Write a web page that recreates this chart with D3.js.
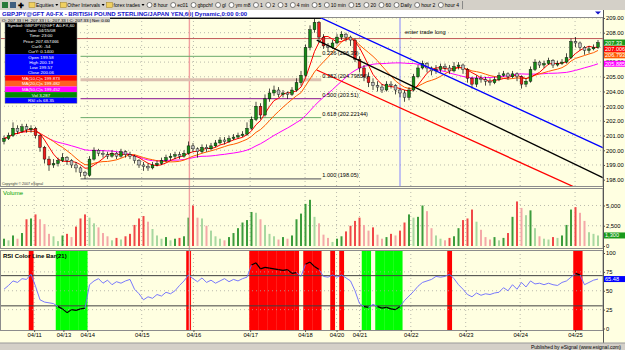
<!DOCTYPE html>
<html>
<head>
<meta charset="utf-8">
<script src="https://cdn.jsdelivr.net/npm/d3@7"></script>
<style>
body { margin: 0; background: #d4d0c8; }
svg { display: block; font-family: "Liberation Sans", Arial, sans-serif; }
</style>
</head>
<body>
<script>
// ---- data (2-hour bars) ----
var firstOpen = 200.6;
var closes = [200.8,201.0,201.5,201.3,201.6,201.4,201.5,201.0,200.2,199.4,
  199.0,199.1,199.3,199.5,199.3,199.0,198.8,198.5,198.3,199.4,
  200.0,199.8,199.7,199.6,199.8,199.6,199.9,199.7,199.6,199.3,
  199.0,198.9,198.8,199.0,199.1,199.3,199.5,199.6,199.7,199.6,
  199.8,200.3,200.1,199.9,200.2,200.1,200.3,200.5,200.7,200.6,
  200.8,200.9,201.0,201.1,201.5,202.1,203.0,202.4,203.5,203.9,
  204.1,203.8,203.9,203.8,204.1,204.6,205.1,207.0,208.2,208.7,
  207.7,207.1,207.0,207.3,207.7,207.9,207.7,207.5,206.2,205.6,
  205.0,204.6,204.4,204.3,204.1,204.5,204.4,204.1,203.9,203.6,
  204.1,205.0,205.6,205.9,205.6,205.4,205.5,205.7,205.6,205.4,
  205.7,205.8,205.5,204.9,204.5,204.9,204.8,204.7,204.6,204.8,
  205.1,205.2,205.0,205.2,205.0,204.5,204.7,205.5,206.0,205.8,
  205.9,206.1,205.8,205.9,206.0,206.3,207.4,207.3,207.0,206.8,
  206.9,207.0,207.33];
var highs = [201.0,201.2,201.9,201.7,201.8,201.8,201.7,201.6,201.1,200.3,
  199.6,199.4,199.5,199.8,199.6,199.4,199.2,198.9,198.6,199.6,
  200.2,200.1,200.0,199.9,200.0,199.9,200.1,200.0,199.9,199.7,
  199.4,199.2,199.1,199.2,199.3,199.5,199.7,199.8,199.9,199.9,
  200.0,200.6,200.5,200.2,200.4,200.4,200.5,200.7,200.9,200.9,
  201.0,201.1,201.2,201.3,201.9,202.3,203.3,203.2,203.8,204.2,
  204.4,204.3,204.1,204.0,204.3,204.9,205.4,207.2,208.5,208.97,
  208.8,207.9,207.3,207.5,207.9,208.1,208.0,207.8,207.6,206.4,
  205.8,205.3,204.9,204.7,204.5,204.7,204.7,204.5,204.2,204.1,
  204.3,205.2,205.8,206.1,206.0,205.7,205.8,205.9,205.9,205.8,
  206.0,206.0,205.9,205.6,205.0,205.1,205.1,205.0,204.9,205.0,
  205.3,205.4,205.3,205.4,205.3,205.1,204.9,205.7,206.2,206.1,
  206.1,206.3,206.2,206.1,206.2,206.6,207.6,207.7,207.4,207.1,
  207.1,207.2,207.5];
var lows = [200.4,200.7,200.9,201.1,201.2,201.2,201.2,200.8,199.9,199.1,
  198.6,198.8,198.9,199.2,199.0,198.8,198.5,198.2,198.05,198.2,
  199.3,199.6,199.5,199.4,199.5,199.4,199.5,199.5,199.4,199.1,
  198.8,198.6,198.6,198.7,198.9,199.0,199.2,199.3,199.4,199.4,
  199.5,199.7,199.9,199.5,199.8,199.9,200.0,200.2,200.4,200.4,
  200.5,200.7,200.8,200.9,201.0,201.4,202.0,202.1,202.3,203.3,
  203.7,203.6,203.6,203.5,203.7,204.0,204.4,205.0,206.8,208.0,
  207.3,206.9,206.7,206.9,207.2,207.5,207.4,207.1,206.0,205.3,
  204.7,204.3,204.1,204.0,203.9,204.0,204.2,203.8,203.6,203.3,
  203.4,204.0,204.9,205.5,205.3,205.1,205.2,205.3,205.4,205.2,
  205.3,205.5,205.2,204.6,204.2,204.3,204.6,204.4,204.4,204.5,
  204.7,205.0,204.8,204.9,204.7,204.2,204.3,204.6,205.4,205.6,
  205.6,205.8,205.6,205.7,205.8,205.9,206.2,207.0,206.8,206.5,
  206.6,206.8,206.9];
var volumes = [900,700,1300,900,1600,3300,3400,3900,3300,2700,
  1500,1200,600,1300,1500,1100,2400,3400,3900,3500,
  2800,2300,1600,1200,700,1000,800,1200,1500,2600,
  3400,3700,3000,2100,1300,900,1100,700,900,1000,
  1200,3500,5000,3500,3400,2500,1900,1200,900,700,
  1100,1600,2200,2900,3200,4200,4100,3300,2600,1500,
  1200,800,1100,900,1300,3300,4000,5200,5700,3600,
  2800,1400,1000,500,900,1200,1800,2500,3100,3500,
  2600,1900,2300,1400,900,1100,1500,1300,1900,2900,
  3900,3500,3600,5000,4300,2200,1300,900,700,1000,
  1200,2200,3200,3400,4500,3000,2000,1100,800,1100,
  700,1000,1600,3600,5500,4700,3800,4400,2200,1200,
  900,800,1100,1000,1300,2600,4500,4800,4100,3100,
  1700,1500,1300];
var rsi = [52,57,63,61,66,65,72,56,38,35,
  34,33,29,26,21,25,24,26,27,58,
  63,66,60,64,58,62,60,63,65,52,
  46,38,42,40,45,43,48,46,50,57,
  63,71,66,62,67,61,64,60,63,66,
  62,65,63,66,68,84,87,79,81,80,
  79,78,77,78,73,74,69,85,88,82,
  78,69,68,71,68,71,67,63,50,33,
  29,28,32,29,27,28,26,25,29,37,
  43,49,56,61,63,65,69,68,69,72,
  66,58,52,45,42,47,44,46,45,47,
  48,54,50,58,52,61,55,63,59,60,
  58,60,58,57,61,63,68,73,71,58,
  61,64,65.48];

var dateLabels = ["04/11","04/13","04/14","04/15","04/16","04/17","04/18","04/20","04/21","04/22","04/23","04/24","04/25"];
var dateBars = [6.7,13.2,18.5,30.6,42.1,54.7,66.9,73.9,79.0,90.4,102.6,114.7,126.9];
var priceTicks = [198,199,200,201,202,203,204,205,206,207,208,209];
var volTicks = [0,2500,5000];
var rsiTicks = [0,25,50,75,100];
var rsiBounds = [30,70];
var maPeriods = [5,10,25];

// fibonacci retracement from the 04/13 low to the 04/18 high
var fibLow = 198.05, fibHigh = 208.97;
var fibLevels = [0,0.236,0.382,0.5,0.618,1];
var fibLabels = ["0.000 (208.97)","0.236 (206.39)","0.382 (204.79856)","0.500 (203.51)","0.618 (202.22144)","1.000 (198.05)"];
var fibBars = [17,70.5];

// down channel: [start price, end price]
var channelBars = [69.5,133.2];
var channelPrices = [[209.14,200.16],[207.5,198.12],[205.46,196.6]];

var entryLevel = 207.6, entryBar = 88.0, entryText = "enter trade long";
var sessionBar = 41.2;

// ---- layout ----
var width = 625, height = 350;
var axisX = 603;
var P = {top: 17, bottom: 186}, V = {top: 188, bottom: 248}, R = {top: 250, bottom: 330};

var svg = d3.select("body").append("svg")
    .attr("width", width)
    .attr("height", height);

svg.append("rect").attr("width", width).attr("height", height).attr("fill", "#ffffe1");

var x = d3.scaleLinear().domain([0, closes.length - 1]).range([4, 598]);
var yP = d3.scaleLinear().domain([197.57, 209.068]).range([P.bottom, P.top]);
var yV = d3.scaleLinear().domain([0, 7037]).range([246, 189]);
var yR = d3.scaleLinear().domain([0, 100]).range([328.5, 253]);

var bars = closes.map(function(c, i) {
    return {i: i, o: i ? closes[i - 1] : firstOpen, c: c, h: highs[i], l: lows[i],
            v: volumes[i], pv: i ? volumes[i - 1] : volumes[i], r: rsi[i]};
});

function sma(arr, n) {
    return arr.map(function(d, i) { return d3.mean(arr.slice(Math.max(0, i - n + 1), i + 1)); });
}
var maColors = ["#ff0000", "#ff5a00", "#ff00ff"];
var mas = maPeriods.map(function(n) { return sma(closes, n); });

var defs = svg.append("defs");
defs.append("clipPath").attr("id", "clipP").append("rect")
    .attr("x", 0).attr("y", P.top).attr("width", axisX).attr("height", P.bottom - P.top);

// grid
function vgrid(top, bottom) {
    svg.append("g").selectAll("line").data(dateBars).join("line")
        .attr("x1", function(d) { return x(d); }).attr("x2", function(d) { return x(d); })
        .attr("y1", top).attr("y2", bottom)
        .attr("stroke", "#a8a8a0").attr("stroke-width", 0.8).attr("stroke-dasharray", "1,3");
}
function hgrid(vals, scale) {
    svg.append("g").selectAll("line").data(vals).join("line")
        .attr("x1", 0).attr("x2", axisX)
        .attr("y1", function(d) { return scale(d); }).attr("y2", function(d) { return scale(d); })
        .attr("stroke", "#a8a8a0").attr("stroke-width", 0.8).attr("stroke-dasharray", "1,3");
}
vgrid(P.top, P.bottom); vgrid(V.top, V.bottom); vgrid(R.top, R.bottom);
hgrid(priceTicks.slice(1), yP);
hgrid(volTicks.slice(1), yV);

// ---- RSI panel ----
var band = svg.append("g");
band.selectAll("rect").data(bars.filter(function(d) { return d.r > rsiBounds[1] || d.r < rsiBounds[0]; }))
    .join("rect")
    .attr("x", function(d) { return x(d.i - 0.5); })
    .attr("width", x(1) - x(0) + 0.3)
    .attr("y", R.top).attr("height", R.bottom - R.top)
    .attr("fill", function(d) { return d.r > rsiBounds[1] ? "#ff0000" : "#00ff00"; });

svg.append("g").selectAll("line").data([25, 50, 75]).join("line")
    .attr("x1", 0).attr("x2", axisX)
    .attr("y1", function(d) { return yR(d); }).attr("y2", function(d) { return yR(d); })
    .attr("stroke", "#a8a8a0").attr("stroke-width", 0.8).attr("stroke-dasharray", "1,3");
svg.append("g").selectAll("line").data(rsiBounds).join("line")
    .attr("x1", 0).attr("x2", axisX)
    .attr("y1", function(d) { return yR(d); }).attr("y2", function(d) { return yR(d); })
    .attr("stroke", "#404040").attr("stroke-width", 1);

function hot(d) { return d.r > rsiBounds[1] || d.r < rsiBounds[0]; }
svg.append("g").selectAll("line").data(d3.pairs(bars)).join("line")
    .attr("x1", function(d) { return x(d[0].i); }).attr("y1", function(d) { return yR(d[0].r); })
    .attr("x2", function(d) { return x(d[1].i); }).attr("y2", function(d) { return yR(d[1].r); })
    .attr("stroke", function(d) { return hot(d[0]) && hot(d[1]) ? "#000000" : "#6a6aff"; })
    .attr("stroke-width", function(d) { return hot(d[0]) && hot(d[1]) ? 1.2 : 0.9; });

svg.append("text").attr("x", 3).attr("y", 258).attr("font-size", 6).attr("font-weight", "bold")
    .text("RSI Color Line Bar(21)");

// ---- volume panel ----
svg.append("g").selectAll("rect").data(bars).join("rect")
    .attr("x", function(d) { return x(d.i) - 1; })
    .attr("width", 2)
    .attr("y", function(d) { return yV(d.v); })
    .attr("height", function(d) { return yV(0) - yV(d.v); })
    .attr("fill", function(d) {
        if (d.c >= d.o) return d.v >= d.pv ? "#3c9c3c" : "#a8d8a0";
        return d.v >= d.pv ? "#f04848" : "#f4a8a8";
    });
svg.append("text").attr("x", 3).attr("y", 195).attr("font-size", 6).attr("fill", "#00a000").text("Volume");

// session marker
svg.append("line").attr("x1", x(sessionBar)).attr("x2", x(sessionBar)).attr("y1", 10).attr("y2", R.bottom)
    .attr("stroke", "#f2a0a0").attr("stroke-width", 1.4);

// ---- price panel ----
var pg = svg.append("g").attr("clip-path", "url(#clipP)");

pg.append("line").attr("x1", x(entryBar)).attr("x2", x(entryBar)).attr("y1", P.top).attr("y2", P.bottom)
    .attr("stroke", "#8484ff").attr("stroke-width", 1);
pg.append("line").attr("x1", 0).attr("x2", axisX).attr("y1", yP(entryLevel)).attr("y2", yP(entryLevel))
    .attr("stroke", "#c05858").attr("stroke-width", 1);

// fib levels
var fibColors = ["#000000", "#6aaa6a", "#dcc0b0", "#a040a0", "#6aaa6a", "#707070"];
var fibWidths = [1, 1, 3, 1.2, 1, 1.2];
fibLevels.forEach(function(f, k) {
    var p = fibHigh - f * (fibHigh - fibLow);
    pg.append("line").attr("x1", x(fibBars[0])).attr("x2", x(fibBars[1]))
        .attr("y1", yP(p)).attr("y2", yP(p))
        .attr("stroke", fibColors[k]).attr("stroke-width", fibWidths[k]);
});

// moving averages
var line = d3.line().x(function(d, i) { return x(i); }).y(function(d) { return yP(d); });
mas.slice().reverse().forEach(function(m, k) {
    pg.append("path").attr("d", line(m)).attr("fill", "none")
        .attr("stroke", maColors[maColors.length - 1 - k]).attr("stroke-width", 1);
});

// candles
var cw = (x(1) - x(0)) * 0.62;
var candle = pg.append("g").selectAll("g").data(bars).join("g");
candle.append("line")
    .attr("x1", function(d) { return x(d.i); }).attr("x2", function(d) { return x(d.i); })
    .attr("y1", function(d) { return yP(d.h); }).attr("y2", function(d) { return yP(d.l); })
    .attr("stroke", "#000").attr("stroke-width", 0.7);
candle.append("rect")
    .attr("x", function(d) { return x(d.i) - cw / 2; })
    .attr("width", cw)
    .attr("y", function(d) { return yP(Math.max(d.o, d.c)); })
    .attr("height", function(d) { return Math.max(0.8, Math.abs(yP(d.o) - yP(d.c))); })
    .attr("fill", function(d) {
        if (d.c >= d.o) return "#168a16";
        return d.o - d.c > 0.4 ? "#ee1c1c" : "#bdbdbd";
    })
    .attr("stroke", "#000").attr("stroke-width", 0.4);

// channel lines
var chColors = ["#0000ff", "#000000", "#ff0000"];
channelPrices.forEach(function(cp, k) {
    pg.append("line")
        .attr("x1", x(channelBars[0])).attr("y1", yP(cp[0]))
        .attr("x2", x(channelBars[1])).attr("y2", yP(cp[1]))
        .attr("stroke", chColors[k]).attr("stroke-width", 1.3);
});

// fib labels
fibLevels.forEach(function(f, k) {
    var p = fibHigh - f * (fibHigh - fibLow);
    pg.append("text").attr("x", x(fibBars[1]) + 1).attr("y", yP(p) - 1.5)
        .attr("font-size", 5.6).text(fibLabels[k]);
});
pg.append("text").attr("x", x(entryBar) + 5).attr("y", yP(entryLevel) - 5)
    .attr("font-size", 5.8).text(entryText);

svg.append("text").attr("x", 2).attr("y", 184.5).attr("font-size", 3.6).attr("fill", "#333")
    .text("Copyright \u00a9 2007 eSignal");

// ---- panel frames ----
[P, V, R].forEach(function(p) {
    svg.append("rect").attr("x", 0.5).attr("y", p.top + 0.5).attr("width", axisX - 0.5).attr("height", p.bottom - p.top)
        .attr("fill", "none").attr("stroke", "#8c8c8c").attr("stroke-width", 1);
});

// ---- window chrome ----
svg.append("rect").attr("width", width).attr("height", 10).attr("fill", "#d4d0c8");
svg.append("rect").attr("y", 10).attr("width", axisX).attr("height", 7).attr("fill", "#ffffff");
svg.append("text").attr("x", 2).attr("y", 15.8).attr("font-size", 6).attr("font-weight", "bold").attr("fill", "#1010c8")
    .text("GBPJPY@GFT A0-FX - BRITISH POUND STERLING/JAPAN YEN,60| Dynamic,0:00 0:00");
svg.append("path").attr("d", "M595,11.5 L601,11.5 L598,14.5 Z").attr("fill", "#1010c8");
svg.append("line").attr("x1", x(sessionBar)).attr("x2", x(sessionBar)).attr("y1", 10).attr("y2", 17)
    .attr("stroke", "#f2a0a0").attr("stroke-width", 1.4);

// toolbar
var tools = [["folder","Equities",1],["folder","Other Intervals",1],["folder","forex trades",1],
    ["clock","8 hour"],["clock","ec01"],["clock","gbpchf"],["clock","gl"],["clock","ym m8"],
    ["clock","1"],["clock","2"],["clock","3"],["clock","4 min"],["clock","5"],["clock","10 min"],
    ["clock","15"],["clock","20"],["clock","60"],["clock","Daily"],["clock","hour 2"],["clock","hour 4"]];
svg.append("rect").attr("x", 2).attr("y", 2).attr("width", 6).attr("height", 6).attr("fill", "#2a7a3a");
svg.append("rect").attr("x", 10).attr("y", 2).attr("width", 6).attr("height", 6).attr("fill", "#406080");
svg.append("text").attr("x", 18).attr("y", 8).attr("font-size", 7).attr("font-weight", "bold").text("\u271a");
var tx = 29;
tools.forEach(function(t) {
    if (t[0] === "folder") {
        svg.append("rect").attr("x", tx).attr("y", 2.5).attr("width", 6).attr("height", 5)
            .attr("fill", "#f0d060").attr("stroke", "#a08020").attr("stroke-width", 0.5);
    } else {
        svg.append("circle").attr("cx", tx + 3).attr("cy", 5).attr("r", 2.5)
            .attr("fill", "#fff").attr("stroke", "#333").attr("stroke-width", 0.6);
    }
    var txt = svg.append("text").attr("x", tx + 7).attr("y", 7.3).attr("font-size", 5).text(t[1]);
    tx += 7 + txt.node().getComputedTextLength() + 1.5;
    if (t[2]) {
        svg.append("path").attr("d", "M" + tx + ",4 L" + (tx + 3) + ",4 L" + (tx + 1.5) + ",6 Z").attr("fill", "#000");
        tx += 4;
    }
    tx += 1;
});
svg.append("line").attr("x1", tx + 1).attr("x2", tx + 1).attr("y1", 1).attr("y2", 9).attr("stroke", "#888");

// OHLC strip
svg.append("rect").attr("x", 0).attr("y", 17).attr("width", 110).attr("height", 5.5).attr("fill", "#d4d0c8");
svg.append("text").attr("x", 2).attr("y", 21.5).attr("font-size", 4.4)
    .text("O: 207.33  |  H: 207.33  |  L: 207.33  |  C: 207.33  |  Net: 0.00");

// cursor data window
var info = [
    ["#000000", ["Symbol: GBPJPY@GFT A0-FX,60", "Date: 04/15/08", "Time: 23:00", "Price: 207.657466", "CurX: -54", "CurY: 0.1400"]],
    ["#0000ff", ["Open 199.58", "High 200.19", "Low 199.57", "Close 200.06"]],
    ["#ff0000", ["MA(10,C)s 199.873"]],
    ["#ff6020", ["MA(20,C)s 199.482"]],
    ["#ff00ff", ["MA(50,C)s 199.452"]],
    ["#008a00", ["Vol 3,287"]],
    ["#0000ff", ["RSI cls 68.35"]]
];
var iy = 22.5;
info.forEach(function(sec) {
    var h = sec[1].length * 5.2 + 0.4;
    svg.append("rect").attr("x", 5).attr("y", iy).attr("width", 72).attr("height", h).attr("fill", sec[0]);
    sec[1].forEach(function(s, j) {
        svg.append("text").attr("x", 41).attr("y", iy + 4.4 + j * 5.2).attr("text-anchor", "middle")
            .attr("font-size", 4.4).attr("fill", "#fff").text(s);
    });
    iy += h;
});
svg.append("rect").attr("x", 5).attr("y", 22.5).attr("width", 72).attr("height", iy - 22.5)
    .attr("fill", "none").attr("stroke", "#888").attr("stroke-width", 0.5);

// ---- axes ----
svg.append("line").attr("x1", axisX + 0.5).attr("x2", axisX + 0.5).attr("y1", 10).attr("y2", 343)
    .attr("stroke", "#555").attr("stroke-width", 1);
function styleAxis(g) {
    g.select(".domain").remove();
    g.selectAll("text").attr("font-size", 5.8).attr("font-family", "Liberation Sans, Arial, sans-serif").attr("fill", "#000");
    g.selectAll("line").attr("stroke", "#555");
}
svg.append("g").attr("transform", "translate(" + axisX + ",0)")
    .call(d3.axisRight(yP).tickValues(priceTicks).tickFormat(d3.format(".2f")).tickSize(2).tickPadding(1))
    .call(styleAxis);
svg.append("g").attr("transform", "translate(" + axisX + ",0)")
    .call(d3.axisRight(yV).tickValues(volTicks).tickFormat(d3.format(",")).tickSize(2).tickPadding(1))
    .call(styleAxis);
svg.append("g").attr("transform", "translate(" + axisX + ",0)")
    .call(d3.axisRight(yR).tickValues(rsiTicks).tickSize(2).tickPadding(1))
    .call(styleAxis);
svg.append("g").attr("transform", "translate(0," + R.bottom + ")")
    .call(d3.axisBottom(x).tickValues(dateBars).tickFormat(function(d, i) { return dateLabels[i]; }).tickSize(2).tickPadding(1))
    .call(styleAxis);

// last value boxes on the right scale
var last = bars[bars.length - 1];
var boxes = [
    {v: last.c, t: d3.format(".2f")(last.c), bg: "#1a9a1a", fg: "#fff"},
    {v: mas[0][mas[0].length - 1], bg: maColors[0], fg: "#fff"},
    {v: mas[1][mas[1].length - 1], bg: maColors[1], fg: "#fff"},
    {v: mas[2][mas[2].length - 1], bg: maColors[2], fg: "#fff"}
];
boxes.forEach(function(b) {
    b.y = yP(b.v);
    if (!b.t) b.t = d3.format(".3f")(b.v);
});
boxes.sort(function(a, b) { return a.y - b.y; });
for (var k = 1; k < boxes.length; k++) if (boxes[k].y - boxes[k - 1].y < 6.4) boxes[k].y = boxes[k - 1].y + 6.4;
boxes.push({y: yV(last.v), t: d3.format(",")(last.v), bg: "#1a9a1a", fg: "#fff"});
boxes.push({y: yR(last.r), t: d3.format(".2f")(last.r), bg: "#0000ff", fg: "#fff"});
var bx = svg.append("g").selectAll("g").data(boxes).join("g");
bx.append("rect").attr("x", axisX + 1).attr("y", function(d) { return d.y - 3; })
    .attr("width", 21).attr("height", 6).attr("fill", function(d) { return d.bg; });
bx.append("text").attr("x", axisX + 2).attr("y", function(d) { return d.y + 2; })
    .attr("font-size", 5.6).attr("fill", function(d) { return d.fg; }).text(function(d) { return d.t; });

// footer
svg.append("rect").attr("y", 343).attr("width", width).attr("height", 7).attr("fill", "#d4d0c8");
svg.append("line").attr("x1", 0).attr("x2", width).attr("y1", 343).attr("y2", 343).attr("stroke", "#999");
svg.append("text").attr("x", 621).attr("y", 348.5).attr("text-anchor", "end").attr("font-size", 5)
    .text("Published by eSignal (www.esignal.com)");
</script>
</body>
</html>
